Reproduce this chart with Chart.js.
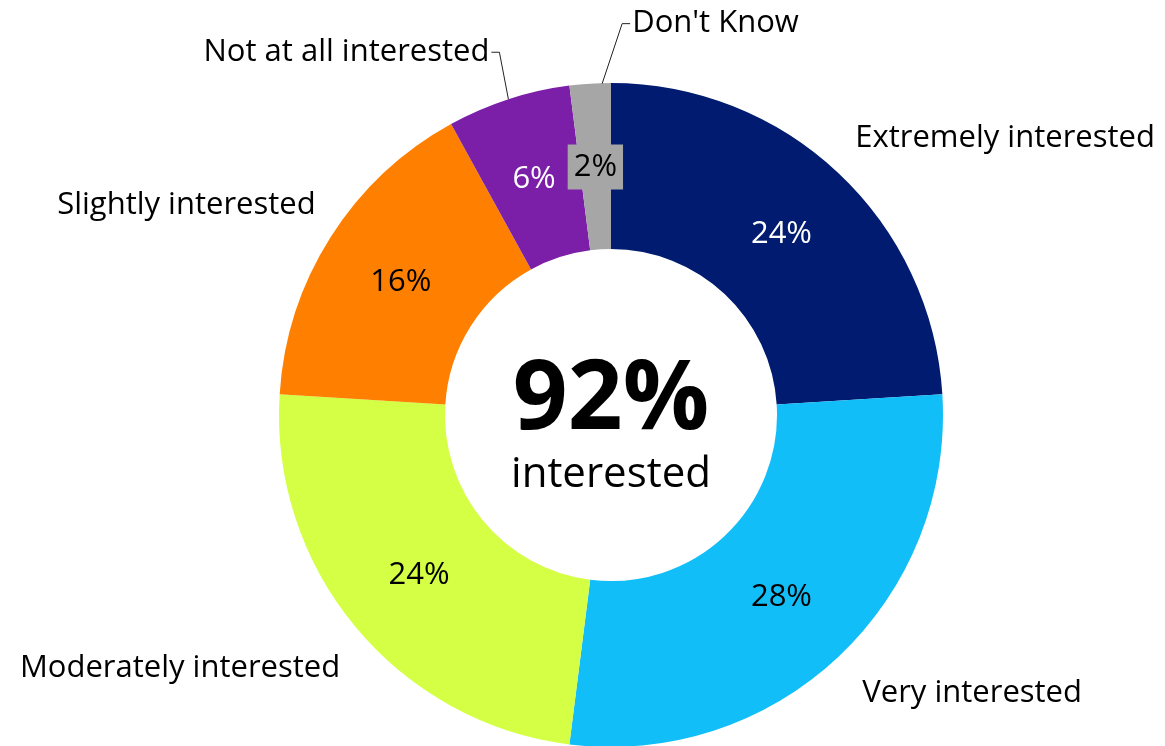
<!DOCTYPE html>
<html>
<head>
<meta charset="utf-8">
<title>Interest</title>
<script src="https://cdn.jsdelivr.net/npm/chart.js@4.4.1/dist/chart.umd.min.js"></script>
<style>
  html, body { margin: 0; padding: 0; background: #fff; overflow: hidden; }
  #wrap { width: 1165px; height: 760px; }
</style>
</head>
<body>
<div id="wrap"><canvas id="donut" width="1165" height="760"></canvas></div>
<script>
const labels = ['Extremely interested', 'Very interested', 'Moderately interested', 'Slightly interested', 'Not at all interested', "Don't Know"]
const values = [24, 28, 24, 16, 6, 2]
const colors = ['#001b6f', '#12bef8', '#d4ff45', '#ff8000', '#7b1fa8', '#a6a6a6']
const valueColors = ['#ffffff', '#000000', '#000000', '#000000', '#ffffff', '#000000']
const centerBig = '92%'
const centerSmall = 'interested'

const FONT = '"Open Sans", sans-serif'

// where each outside label sits, relative to the outer edge at the slice middle
const labelPos = [
  { dx: 17, dy: -35, align: 'left' },
  { dx: 24, dy: 36, align: 'left' },
  { dx: -15, dy: 42, align: 'right' },
  { dx: -15, dy: -32, align: 'right' },
  { dx: -19, dy: -47, align: 'right', leader: true },
  { dx: 30, dy: -60, align: 'left', leader: true, from: 12 }
]

const donutLabels = {
  id: 'donutLabels',
  afterDatasetsDraw(chart) {
    const c = chart.ctx
    const meta = chart.getDatasetMeta(0)
    c.save()
    meta.data.forEach((arc, i) => {
      const p = arc.getProps(['x', 'y', 'startAngle', 'endAngle', 'innerRadius', 'outerRadius'], true)
      const mid = (p.startAngle + p.endAngle) / 2

      // value inside the slice
      const cp = arc.getCenterPoint()
      const txt = values[i] + '%'
      c.font = '31px ' + FONT
      c.textAlign = 'center'
      c.textBaseline = 'middle'
      if (i === 5) {
        const w = c.measureText(txt).width
        c.fillStyle = colors[i]
        c.fillRect(cp.x - w / 2 - 6, cp.y - 22, w + 12, 45)
      }
      c.fillStyle = valueColors[i]
      c.fillText(txt, cp.x, cp.y + 1)

      // category name outside
      const lp = labelPos[i]
      const ox = p.x + Math.cos(mid) * p.outerRadius + (lp.from || 0)
      const oy = p.y + Math.sin(mid) * p.outerRadius
      const lx = ox + lp.dx
      const ly = oy + lp.dy
      if (lp.leader) {
        const dir = lp.align === 'left' ? -1 : 1
        c.strokeStyle = '#222'
        c.lineWidth = 1
        c.beginPath()
        c.moveTo(ox, oy)
        c.lineTo(lx + dir * 10, ly)
        c.lineTo(lx + dir * 2, ly)
        c.stroke()
      }
      c.fillStyle = '#000'
      c.font = '31px ' + FONT
      c.textAlign = lp.align
      c.fillText(labels[i], lx, ly)
    })

    // total in the hole
    const a = meta.data[0]
    c.textAlign = 'center'
    c.fillStyle = '#000'
    c.font = 'bold 96px ' + FONT
    c.fillText(centerBig, a.x, a.y - 13)
    c.font = '42px ' + FONT
    c.fillText(centerSmall, a.x, a.y + 60)
    c.restore()
  }
}

new Chart(document.getElementById('donut'), {
  type: 'doughnut',
  data: {
    labels: labels,
    datasets: [{
      data: values,
      backgroundColor: colors,
      borderWidth: 0
    }]
  },
  options: {
    responsive: false,
    animation: false,
    cutout: '50%',
    layout: { padding: { top: 83, bottom: 13, left: 57, right: 0 } },
    plugins: {
      legend: { display: false },
      tooltip: { enabled: false }
    }
  },
  plugins: [donutLabels]
})
</script>
</body>
</html>
